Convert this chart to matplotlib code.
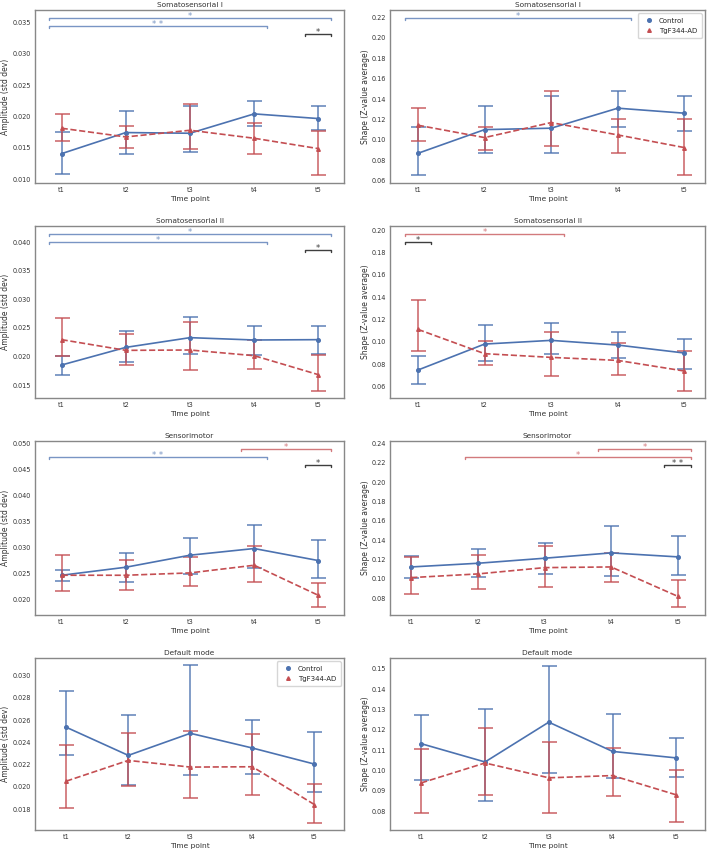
import numpy as np
import matplotlib.pyplot as plt
import seaborn as sns
from matplotlib.lines import Line2D

sns.set_style("white")
plt.rcParams['font.family'] = ['DejaVu Sans']

#### data ####
timepoints = ['t1', 't2', 't3', 't4', 't5']

# Somatosensorial I - amplitude
amp_s1_ctrl = [0.01406, 0.01743, 0.01732, 0.02042, 0.01967]
amp_s1_ctrl_lo = [0.01085, 0.01406, 0.01433, 0.01855, 0.01780]
amp_s1_ctrl_hi = [0.01759, 0.02095, 0.02175, 0.02250, 0.02164]
amp_s1_tg = [0.01812, 0.01673, 0.01780, 0.01652, 0.01486]
amp_s1_tg_lo = [0.01604, 0.01502, 0.01481, 0.01400, 0.01059]
amp_s1_tg_hi = [0.02042, 0.01844, 0.02202, 0.01892, 0.01764]

# Somatosensorial I - shape
shp_s1_ctrl = [0.0868, 0.1100, 0.1114, 0.1310, 0.1261]
shp_s1_ctrl_lo = [0.0659, 0.0875, 0.0875, 0.1130, 0.1091]
shp_s1_ctrl_hi = [0.1130, 0.1330, 0.1431, 0.1474, 0.1431]
shp_s1_tg = [0.1143, 0.1022, 0.1169, 0.1048, 0.0924]
shp_s1_tg_lo = [0.0986, 0.0904, 0.0937, 0.0875, 0.0652]
shp_s1_tg_hi = [0.1310, 0.1127, 0.1480, 0.1202, 0.1202]

# Somatosensorial II - amplitude
amp_s2_ctrl = [0.01850, 0.02158, 0.02328, 0.02287, 0.02293]
amp_s2_ctrl_lo = [0.01681, 0.01908, 0.02036, 0.02019, 0.02048]
amp_s2_ctrl_hi = [0.02000, 0.02438, 0.02683, 0.02531, 0.02526]
amp_s2_tg = [0.02293, 0.02106, 0.02112, 0.02013, 0.01681]
amp_s2_tg_lo = [0.02007, 0.01855, 0.01768, 0.01780, 0.01400]
amp_s2_tg_hi = [0.02666, 0.02392, 0.02596, 0.02293, 0.02019]

# Somatosensorial II - shape
shp_s2_ctrl = [0.0749, 0.0981, 0.1014, 0.0972, 0.0901]
shp_s2_ctrl_lo = [0.0627, 0.0832, 0.0895, 0.0853, 0.0758]
shp_s2_ctrl_hi = [0.0871, 0.1148, 0.1169, 0.1088, 0.1029]
shp_s2_tg = [0.1112, 0.0895, 0.0862, 0.0835, 0.0740]
shp_s2_tg_lo = [0.0919, 0.0791, 0.0692, 0.0704, 0.0564]
shp_s2_tg_hi = [0.1377, 0.1008, 0.1088, 0.0987, 0.0919]

# Sensorimotor - amplitude
amp_sm_ctrl = [0.02468, 0.02622, 0.02853, 0.02981, 0.02750]
amp_sm_ctrl_lo = [0.02359, 0.02333, 0.02500, 0.02609, 0.02410]
amp_sm_ctrl_hi = [0.02564, 0.02891, 0.03192, 0.03430, 0.03147]
amp_sm_tg = [0.02468, 0.02468, 0.02513, 0.02660, 0.02083]
amp_sm_tg_lo = [0.02173, 0.02180, 0.02263, 0.02346, 0.01859]
amp_sm_tg_hi = [0.02865, 0.02769, 0.02827, 0.03032, 0.02327]

# Sensorimotor - shape
shp_sm_ctrl = [0.1124, 0.1162, 0.1214, 0.1269, 0.1228]
shp_sm_ctrl_lo = [0.1010, 0.1017, 0.1055, 0.1031, 0.1041]
shp_sm_ctrl_hi = [0.1238, 0.1314, 0.1372, 0.1548, 0.1445]
shp_sm_tg = [0.1014, 0.1052, 0.1117, 0.1124, 0.0821]
shp_sm_tg_lo = [0.0845, 0.0897, 0.0921, 0.0972, 0.0710]
shp_sm_tg_hi = [0.1224, 0.1245, 0.1345, 0.1269, 0.0993]

# Default mode - amplitude
amp_dm_ctrl = [0.02535, 0.02283, 0.02481, 0.02349, 0.02205]
amp_dm_ctrl_lo = [0.02286, 0.02019, 0.02103, 0.02112, 0.01959]
amp_dm_ctrl_hi = [0.02856, 0.02649, 0.03090, 0.02604, 0.02496]
amp_dm_tg = [0.02052, 0.02238, 0.02178, 0.02181, 0.01842]
amp_dm_tg_lo = [0.01815, 0.02007, 0.01899, 0.01929, 0.01680]
amp_dm_tg_hi = [0.02376, 0.02484, 0.02499, 0.02478, 0.02022]

# Default mode - shape
shp_dm_ctrl = [0.1132, 0.1042, 0.1238, 0.1094, 0.1062]
shp_dm_ctrl_lo = [0.0954, 0.0851, 0.0990, 0.0962, 0.0968]
shp_dm_ctrl_hi = [0.1274, 0.1302, 0.1513, 0.1278, 0.1160]
shp_dm_tg = [0.0939, 0.1037, 0.0964, 0.0975, 0.0880]
shp_dm_tg_lo = [0.0789, 0.0878, 0.0793, 0.0872, 0.0746]
shp_dm_tg_hi = [0.1106, 0.1209, 0.1142, 0.1109, 0.1001]

# significance brackets: (from, to, stars, group, level)
sig_amp_s1 = [(0, 4, '*', 'ctrl', 0), (0, 3, '* *', 'ctrl', 1), (4, 4, '*', 'both', 2)]
sig_shp_s1 = [(0, 3, '*', 'ctrl', 0)]
sig_amp_s2 = [(0, 4, '*', 'ctrl', 0), (0, 3, '*', 'ctrl', 1), (4, 4, '*', 'both', 2)]
sig_shp_s2 = [(0, 2, '*', 'tg', 0), (0, 0, '*', 'both', 1)]
sig_amp_sm = [(3, 4, '*', 'tg', 0), (0, 3, '* *', 'ctrl', 1), (4, 4, '*', 'both', 2)]
sig_shp_sm = [(3, 4, '*', 'tg', 0), (1, 4, '*', 'tg', 1), (4, 4, '* *', 'both', 2)]
########################################

blue = '#4c72b0'
red = '#c44e52'
sig_colors = {'ctrl': blue, 'tg': red, 'both': '#333333'}
txt_col = '#333333'

W, H = 708, 852
fig = plt.figure(figsize=(W / 100, H / 100), dpi=100)

# axes boxes in pixels (left, top, right, bottom)
cols = [(35, 344), (390, 705)]
rows = [(10, 183), (226, 398), (441, 615), (658, 830)]
ylab_x = [-0.094, -0.078]


def make_ax(r, c):
    x0, x1 = cols[c]
    y0, y1 = rows[r]
    return fig.add_axes([x0 / W, 1 - y1 / H, (x1 - x0) / W, (y1 - y0) / H])


def draw_sig(ax, sigs):
    trans = ax.get_xaxis_transform()
    for i, j, txt, grp, lev in sigs:
        col = sig_colors[grp]
        a = 0.95 if grp == 'both' else 0.75
        y = 0.952 - 0.046 * lev
        xa, xb = i - 0.2, j + 0.2
        ax.plot([xa, xa, xb, xb], [y - 0.01, y, y, y - 0.01], color=col,
                lw=1.0, alpha=a, transform=trans, clip_on=False)
        ax.text((xa + xb) / 2, y - 0.016, txt, color=col, alpha=a, fontsize=6,
                ha='center', va='bottom', transform=trans)


def panel(r, c, title, ylabel, ctrl, ctrl_lo, ctrl_hi, tg, tg_lo, tg_hi,
          xlim, ylim, yticks, sigs=None, legend=False):
    ax = make_ax(r, c)
    x = np.arange(len(timepoints))
    for m, lo, hi, col in [(ctrl, ctrl_lo, ctrl_hi, blue), (tg, tg_lo, tg_hi, red)]:
        m = np.array(m)
        err = [m - np.array(lo), np.array(hi) - m]
        ax.errorbar(x, m, yerr=err, fmt='none', ecolor=col, alpha=0.7,
                    elinewidth=1.4, capsize=5.4, capthick=1.4)
    ax.plot(x, ctrl, color=blue, ls='-', marker='o', ms=2.6, lw=1.2)
    ax.plot(x, tg, color=red, ls='--', marker='^', ms=2.6, lw=1.2)
    if sigs:
        draw_sig(ax, sigs)
    ax.set_xticks(x)
    ax.set_xticklabels(timepoints)
    ax.set_yticks(yticks)
    ax.set_xlim(*xlim)
    ax.set_ylim(*ylim)
    ax.tick_params(labelsize=4.7, length=0, colors=txt_col)
    ax.tick_params(axis='x', pad=3.2)
    ax.tick_params(axis='y', pad=2.8)
    ax.set_title(title, fontsize=5.3, pad=2, color=txt_col)
    ax.set_xlabel('Time point', fontsize=5.4, labelpad=1.5, color=txt_col)
    ax.set_ylabel(ylabel, fontsize=5.5, color=txt_col, va='center')
    ax.yaxis.set_label_coords(ylab_x[c], 0.5)
    for s in ax.spines.values():
        s.set_color('#888888')
        s.set_linewidth(1.0)
    if legend:
        handles = [Line2D([], [], color=blue, marker='o', ls='none', ms=2.6),
                   Line2D([], [], color=red, marker='^', ls='none', ms=2.6)]
        ax.legend(handles, ['Control', 'TgF344-AD'], loc='upper right',
                  fontsize=5, frameon=True, handletextpad=0.5, borderpad=0.6,
                  labelspacing=0.6)
    return ax


amp_lab = 'Amplitude (std dev)'
shp_lab = 'Shape (Z-value average)'

panel(0, 0, 'Somatosensorial I', amp_lab, amp_s1_ctrl, amp_s1_ctrl_lo, amp_s1_ctrl_hi,
      amp_s1_tg, amp_s1_tg_lo, amp_s1_tg_hi, (-0.415, 4.4), (0.00936, 0.03704),
      np.arange(0.010, 0.0351, 0.005), sig_amp_s1)
panel(0, 1, 'Somatosensorial I', shp_lab, shp_s1_ctrl, shp_s1_ctrl_lo, shp_s1_ctrl_hi,
      shp_s1_tg, shp_s1_tg_lo, shp_s1_tg_hi, (-0.42, 4.31), (0.0577, 0.2272),
      np.arange(0.06, 0.2201, 0.02), sig_shp_s1, legend=True)
panel(1, 0, 'Somatosensorial II', amp_lab, amp_s2_ctrl, amp_s2_ctrl_lo, amp_s2_ctrl_hi,
      amp_s2_tg, amp_s2_tg_lo, amp_s2_tg_hi, (-0.415, 4.4), (0.01273, 0.0428),
      np.arange(0.015, 0.0401, 0.005), sig_amp_s2)
panel(1, 1, 'Somatosensorial II', shp_lab, shp_s2_ctrl, shp_s2_ctrl_lo, shp_s2_ctrl_hi,
      shp_s2_tg, shp_s2_tg_lo, shp_s2_tg_hi, (-0.42, 4.31), (0.0499, 0.2036),
      np.arange(0.06, 0.2001, 0.02), sig_shp_s2)
panel(2, 0, 'Sensorimotor', amp_lab, amp_sm_ctrl, amp_sm_ctrl_lo, amp_sm_ctrl_hi,
      amp_sm_tg, amp_sm_tg_lo, amp_sm_tg_hi, (-0.415, 4.4), (0.01705, 0.05045),
      np.arange(0.020, 0.0501, 0.005), sig_amp_sm)
panel(2, 1, 'Sensorimotor', shp_lab, shp_sm_ctrl, shp_sm_ctrl_lo, shp_sm_ctrl_hi,
      shp_sm_tg, shp_sm_tg_lo, shp_sm_tg_hi, (-0.32, 4.41), (0.0628, 0.2424),
      np.arange(0.08, 0.2401, 0.02), sig_shp_sm)
panel(3, 0, 'Default mode', amp_lab, amp_dm_ctrl, amp_dm_ctrl_lo, amp_dm_ctrl_hi,
      amp_dm_tg, amp_dm_tg_lo, amp_dm_tg_hi, (-0.504, 4.477), (0.01614, 0.03156),
      np.arange(0.018, 0.0301, 0.002), legend=True)
panel(3, 1, 'Default mode', shp_lab, shp_dm_ctrl, shp_dm_ctrl_lo, shp_dm_ctrl_hi,
      shp_dm_tg, shp_dm_tg_lo, shp_dm_tg_hi, (-0.49, 4.45), (0.0707, 0.1554),
      np.arange(0.08, 0.1501, 0.01))

plt.savefig('out.png', dpi=100)
